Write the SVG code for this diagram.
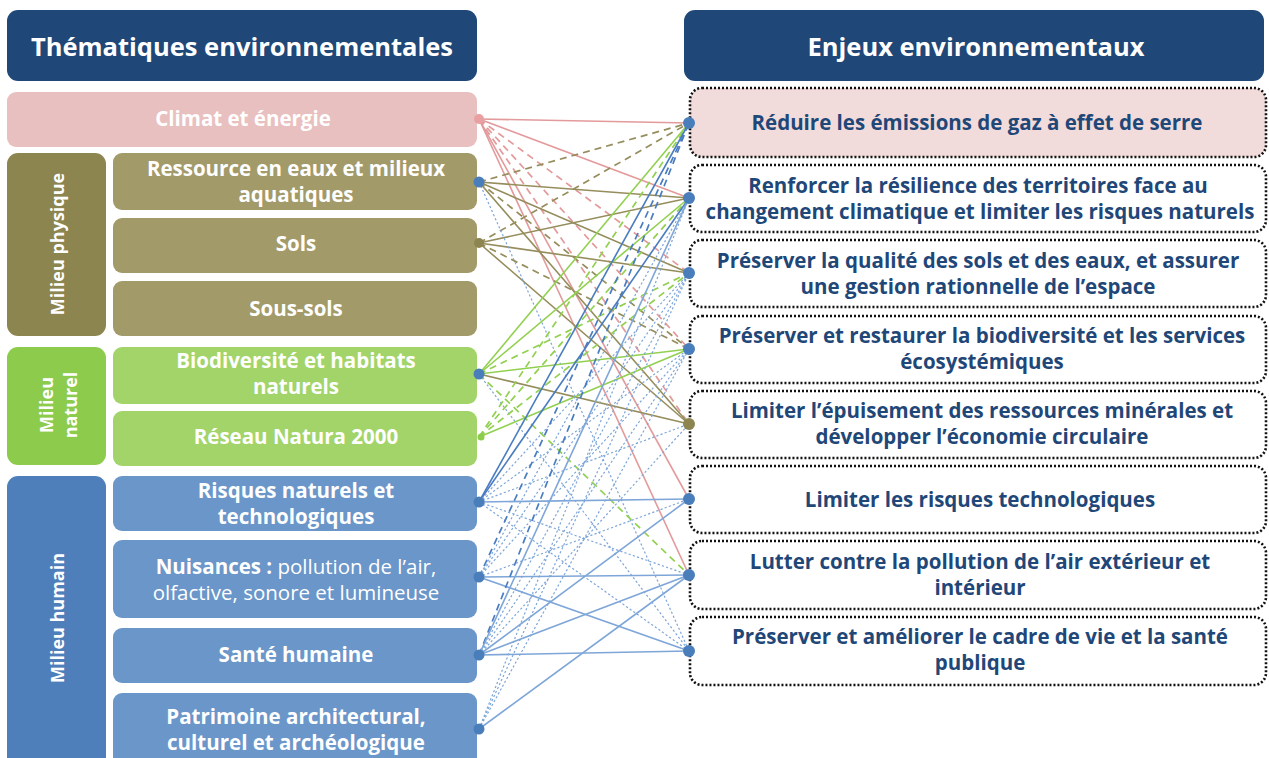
<svg xmlns="http://www.w3.org/2000/svg" width="1269" height="758" viewBox="0 0 1269 758">
<style>
text{font-family:"Open Sans","Liberation Sans",sans-serif;font-weight:700;text-anchor:middle}
.hdr{fill:#1F4778}
.ht{fill:#fff;font-size:25.5px}
.lt{fill:#fff;font-size:20.5px}
.vt{fill:#fff;font-size:18px}
.nw{font-weight:400}
.rt{fill:#1F4778;font-size:20.5px}
.rbox{stroke:#111;stroke-width:2.6;stroke-dasharray:2 2;fill:#fff}
.pk{stroke:#E39A9B}
.ol{stroke:#958D5C}
.gr{stroke:#92D050}
.bd{stroke:#4A7CC0}
.bl{stroke:#7EA6D8}
.sol{stroke-width:1.6;fill:none}
.dsh{stroke-width:1.7;stroke-dasharray:7 5;fill:none}
.dot{stroke-width:1.2;stroke-dasharray:2.2 2.2;fill:none}
</style>
<rect width="1269" height="758" fill="#fff"/>
<g id="left-header"><rect class="hdr" x="7" y="10" width="470" height="71" rx="11"/><text class="ht" x="242" y="56">Thématiques environnementales</text></g>
<g id="right-header"><rect class="hdr" x="684" y="10" width="580" height="71" rx="11"/><text class="ht" x="976" y="56">Enjeux environnementaux</text></g>
<g id="climat"><rect x="7" y="92" width="470" height="55" rx="9" fill="#E9C0C0"/><text class="lt" x="243" y="126">Climat et énergie</text></g>
<g id="milieu-physique"><rect x="7" y="153" width="99" height="183" rx="11" fill="#8C8550"/><text class="vt" transform="translate(64,244) rotate(-90)">Milieu physique</text></g>
<g id="ressource"><rect x="113" y="153" width="364" height="57" rx="9" fill="#A39A6A"/><text class="lt" x="296" y="176">Ressource en eaux et milieux</text><text class="lt" x="296" y="202">aquatiques</text></g>
<g id="sols"><rect x="113" y="218" width="364" height="55" rx="9" fill="#A39A6A"/><text class="lt" x="296" y="251">Sols</text></g>
<g id="sous-sols"><rect x="113" y="281" width="364" height="55" rx="9" fill="#A39A6A"/><text class="lt" x="296" y="316">Sous-sols</text></g>
<g id="milieu-naturel"><rect x="7" y="347" width="99" height="118" rx="11" fill="#8DCB4D"/><text class="vt" transform="translate(53,405) rotate(-90)">Milieu</text><text class="vt" transform="translate(77,405) rotate(-90)">naturel</text></g>
<g id="biodiversite"><rect x="113" y="347" width="364" height="57" rx="9" fill="#A2D46A"/><text class="lt" x="296" y="368">Biodiversité et habitats</text><text class="lt" x="296" y="394">naturels</text></g>
<g id="natura"><rect x="113" y="411" width="364" height="55" rx="9" fill="#A2D46A"/><text class="lt" x="296" y="444">Réseau Natura 2000</text></g>
<g id="milieu-humain"><rect x="7" y="476" width="99" height="300" rx="11" fill="#4F7FBB"/><text class="vt" transform="translate(64,618) rotate(-90)">Milieu humain</text></g>
<g id="risques"><rect x="113" y="476" width="364" height="55" rx="9" fill="#6A96C9"/><text class="lt" x="296" y="498">Risques naturels et</text><text class="lt" x="296" y="524">technologiques</text></g>
<g id="nuisances"><rect x="113" y="540" width="364" height="78" rx="9" fill="#6A96C9"/><text class="lt" x="296" y="574">Nuisances : <tspan class="nw">pollution de l’air,</tspan></text><text class="lt nw" x="296" y="600">olfactive, sonore et lumineuse</text></g>
<g id="sante"><rect x="113" y="628" width="364" height="55" rx="9" fill="#6A96C9"/><text class="lt" x="296" y="662">Santé humaine</text></g>
<g id="patrimoine"><rect x="113" y="693" width="364" height="80" rx="9" fill="#6A96C9"/><text class="lt" x="296" y="724">Patrimoine architectural,</text><text class="lt" x="296" y="750">culturel et archéologique</text></g>
<g id="enjeu-1"><rect class="rbox" x="690" y="88" width="576" height="69" rx="12" style="fill:#F2DCDB"/><text class="rt" x="977" y="130">Réduire les émissions de gaz à effet de serre</text></g>
<g id="enjeu-2"><rect class="rbox" x="690" y="165" width="576" height="67" rx="12"/><text class="rt" x="978" y="193">Renforcer la résilience des territoires face au</text><text class="rt" x="980" y="219">changement climatique et limiter les risques naturels</text></g>
<g id="enjeu-3"><rect class="rbox" x="690" y="240" width="576" height="67" rx="12"/><text class="rt" x="978" y="268">Préserver la qualité des sols et des eaux, et assurer</text><text class="rt" x="978" y="294">une gestion rationnelle de l’espace</text></g>
<g id="enjeu-4"><rect class="rbox" x="690" y="316" width="576" height="67" rx="12"/><text class="rt" x="982" y="343">Préserver et restaurer la biodiversité et les services</text><text class="rt" x="982" y="369">écosystémiques</text></g>
<g id="enjeu-5"><rect class="rbox" x="690" y="391" width="576" height="67" rx="12"/><text class="rt" x="982" y="418">Limiter l’épuisement des ressources minérales et</text><text class="rt" x="982" y="444">développer l’économie circulaire</text></g>
<g id="enjeu-6"><rect class="rbox" x="690" y="466" width="576" height="67" rx="12"/><text class="rt" x="980" y="507">Limiter les risques technologiques</text></g>
<g id="enjeu-7"><rect class="rbox" x="690" y="541" width="576" height="68" rx="12"/><text class="rt" x="980" y="569">Lutter contre la pollution de l’air extérieur et</text><text class="rt" x="980" y="595">intérieur</text></g>
<g id="enjeu-8"><rect class="rbox" x="690" y="617" width="576" height="68" rx="12"/><text class="rt" x="980" y="644">Préserver et améliorer le cadre de vie et la santé</text><text class="rt" x="980" y="670">publique</text></g>
<g id="connectors">
<line class="pk sol" x1="479" y1="119" x2="689" y2="123"/>
<line class="pk sol" x1="479" y1="119" x2="689" y2="198"/>
<line class="pk sol" x1="479" y1="119" x2="689" y2="499"/>
<line class="pk sol" x1="479" y1="119" x2="689" y2="575"/>
<line class="pk dsh" x1="479" y1="119" x2="689" y2="273"/>
<line class="pk dsh" x1="479" y1="119" x2="689" y2="349"/>
<line class="pk dsh" x1="479" y1="119" x2="689" y2="424"/>
<line class="ol dsh" x1="479" y1="182" x2="689" y2="123"/>
<line class="ol sol" x1="479" y1="182" x2="689" y2="198"/>
<line class="ol sol" x1="479" y1="182" x2="689" y2="273"/>
<line class="ol dsh" x1="479" y1="182" x2="689" y2="349"/>
<line class="ol sol" x1="479" y1="182" x2="689" y2="424"/>
<line class="ol dsh" x1="479" y1="243" x2="689" y2="123"/>
<line class="ol sol" x1="479" y1="243" x2="689" y2="198"/>
<line class="ol sol" x1="479" y1="243" x2="689" y2="273"/>
<line class="ol dsh" x1="479" y1="243" x2="689" y2="349"/>
<line class="ol sol" x1="479" y1="243" x2="689" y2="424"/>
<line class="ol sol" x1="479" y1="374" x2="689" y2="424"/>
<line class="bl dot" x1="479" y1="182" x2="689" y2="651"/>
<line class="bl dot" x1="479" y1="374" x2="689" y2="651"/>
<line class="gr sol" x1="479" y1="374" x2="689" y2="123"/>
<line class="gr sol" x1="479" y1="374" x2="689" y2="198"/>
<line class="gr dsh" x1="479" y1="374" x2="689" y2="273"/>
<line class="gr sol" x1="479" y1="374" x2="689" y2="349"/>
<line class="gr dsh" x1="479" y1="374" x2="689" y2="575"/>
<line class="gr dsh" x1="479" y1="437" x2="689" y2="123"/>
<line class="gr dsh" x1="479" y1="437" x2="689" y2="198"/>
<line class="gr dsh" x1="479" y1="437" x2="689" y2="273"/>
<line class="gr sol" x1="479" y1="437" x2="689" y2="349"/>
<line class="bd sol" x1="479" y1="502" x2="689" y2="123"/>
<line class="bd sol" x1="479" y1="502" x2="689" y2="198"/>
<line class="bl sol" x1="479" y1="502" x2="689" y2="499"/>
<line class="bl dot" x1="479" y1="502" x2="689" y2="273"/>
<line class="bl dot" x1="479" y1="502" x2="689" y2="349"/>
<line class="bl dot" x1="479" y1="502" x2="689" y2="424"/>
<line class="bl dot" x1="479" y1="502" x2="689" y2="575"/>
<line class="bl dot" x1="479" y1="502" x2="689" y2="651"/>
<line class="bd dsh" x1="479" y1="577" x2="689" y2="123"/>
<line class="bl dot" x1="479" y1="577" x2="689" y2="198"/>
<line class="bl dot" x1="479" y1="577" x2="689" y2="273"/>
<line class="bl dot" x1="479" y1="577" x2="689" y2="349"/>
<line class="bl dot" x1="479" y1="577" x2="689" y2="499"/>
<line class="bl sol" x1="479" y1="577" x2="689" y2="575"/>
<line class="bl sol" x1="479" y1="577" x2="689" y2="651"/>
<line class="bd dsh" x1="479" y1="655" x2="689" y2="123"/>
<line class="bl sol" x1="479" y1="655" x2="689" y2="198"/>
<line class="bl dot" x1="479" y1="655" x2="689" y2="273"/>
<line class="bl dot" x1="479" y1="655" x2="689" y2="349"/>
<line class="bl dot" x1="479" y1="655" x2="689" y2="424"/>
<line class="bl sol" x1="479" y1="655" x2="689" y2="499"/>
<line class="bl sol" x1="479" y1="655" x2="689" y2="575"/>
<line class="bl sol" x1="479" y1="655" x2="689" y2="651"/>
<line class="bl dot" x1="479" y1="729" x2="689" y2="198"/>
<line class="bl dot" x1="479" y1="729" x2="689" y2="273"/>
<line class="bl dot" x1="479" y1="729" x2="689" y2="349"/>
<line class="bl sol" x1="479" y1="729" x2="689" y2="575"/>
</g>
<g id="ports">
<circle cx="479" cy="119" r="5" fill="#E8A0A2"/>
<circle cx="479" cy="182" r="5.5" fill="#4A7EBB"/>
<circle cx="479" cy="243" r="5" fill="#8C8550"/>
<circle cx="479" cy="374" r="5.5" fill="#4A7EBB"/>
<circle cx="481" cy="437" r="3.5" fill="#8DCB4D"/>
<circle cx="479" cy="502" r="5.5" fill="#4A7EBB"/>
<circle cx="479" cy="577" r="5.5" fill="#4A7EBB"/>
<circle cx="479" cy="655" r="5.5" fill="#4A7EBB"/>
<circle cx="479" cy="729" r="5.5" fill="#4A7EBB"/>
<circle cx="689" cy="123" r="6" fill="#4A7EBB"/>
<circle cx="689" cy="198" r="6" fill="#4A7EBB"/>
<circle cx="689" cy="273" r="6" fill="#4A7EBB"/>
<circle cx="689" cy="349" r="6" fill="#4A7EBB"/>
<circle cx="689" cy="424" r="6" fill="#8C8550"/>
<circle cx="689" cy="499" r="6" fill="#4A7EBB"/>
<circle cx="689" cy="575" r="6" fill="#4A7EBB"/>
<circle cx="689" cy="651" r="6" fill="#4A7EBB"/>
</g>
</svg>
